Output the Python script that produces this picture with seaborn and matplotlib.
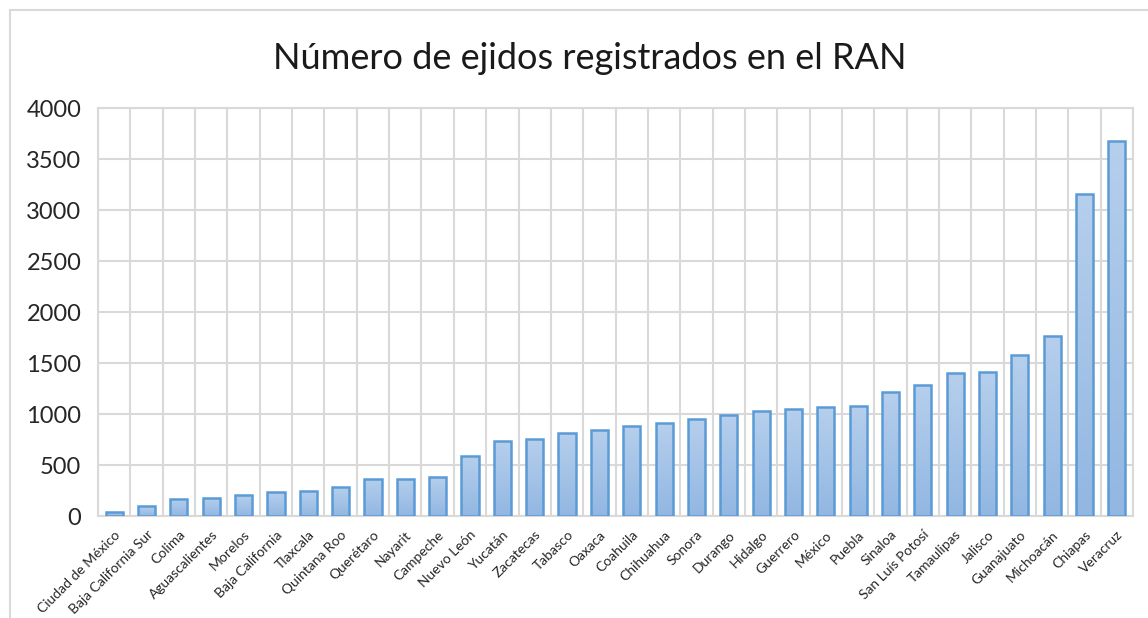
import numpy as np
import pandas as pd
import seaborn as sns
import matplotlib.pyplot as plt
from matplotlib.patches import Rectangle
from matplotlib.colors import LinearSegmentedColormap

estados = ["Ciudad de México", "Baja California Sur", "Colima", "Aguascalientes",
           "Morelos", "Baja California", "Tlaxcala", "Quintana Roo", "Querétaro",
           "Nayarit", "Campeche", "Nuevo León", "Yucatán", "Zacatecas", "Tabasco",
           "Oaxaca", "Coahuila", "Chihuahua", "Sonora", "Durango", "Hidalgo",
           "Guerrero", "México", "Puebla", "Sinaloa", "San Luís Potosí",
           "Tamaulipas", "Jalisco", "Guanajuato", "Michoacán", "Chiapas", "Veracruz"]
ejidos = [40, 98, 170, 180, 204, 235, 245, 281, 363, 367, 386, 590, 735,
          755, 814, 847, 886, 912, 951, 987, 1026, 1052, 1069, 1082, 1219,
          1289, 1400, 1410, 1581, 1767, 3160, 3680]
yticks = [0, 500, 1000, 1500, 2000, 2500, 3000, 3500, 4000]
titulo = "Número de ejidos registrados en el RAN"

sns.set_style("white")
plt.rcParams['font.family'] = ['Lato', 'DejaVu Sans']

df = pd.DataFrame({"estado": estados, "ejidos": ejidos})

fig = plt.figure(figsize=(11.48, 6.18), dpi=100)
ax = fig.add_axes([0.0854, 0.165, 0.9016, 0.66])

# outer chart frame
fig.patches.append(Rectangle((10 / 1148, -0.05), 1.2, 1 - 10 / 618 + 0.05,
                             transform=fig.transFigure, fill=False,
                             edgecolor="#d9d9d9", linewidth=1.5))

sns.barplot(data=df, x="estado", y="ejidos", color="#a3c2e8", saturation=1,
            edgecolor="#5b9bd5", linewidth=1.8, width=0.53, ax=ax, zorder=3)

# vertical gradient fill like the original (light at top, darker at bottom)
grad_cmap = LinearSegmentedColormap.from_list("g", ["#92b7e2", "#b6cfec"])
grad = np.linspace(0, 1, 256).reshape(-1, 1)
for p in ax.patches:
    x0, y0 = p.get_x(), p.get_y()
    w, h = p.get_width(), p.get_height()
    im = ax.imshow(grad, extent=[x0, x0 + w, y0, y0 + h], origin="lower",
                   aspect="auto", cmap=grad_cmap, zorder=3.5)
    im.set_clip_path(p)
    p.set_zorder(4)
    p.set_facecolor("none")

n = len(estados)
ax.set_xlim(-0.5, n - 0.5)
ax.set_ylim(0, 4000)
ax.set_yticks(yticks)
ax.set_yticklabels([str(t) for t in yticks], fontsize=17)
ax.set_xticks(np.arange(n))
ax.set_xticklabels(estados, rotation=45, ha="right", rotation_mode="anchor",
                   fontsize=10)
ax.set_xticks(np.arange(n + 1) - 0.5, minor=True)
ax.tick_params(axis="both", which="both", length=0)
ax.tick_params(axis="y", pad=12)
ax.tick_params(axis="x", pad=9)

ax.grid(axis="y", which="major", color="#d9d9d9", linewidth=1.5, zorder=0)
ax.grid(axis="x", which="minor", color="#d9d9d9", linewidth=1.5, zorder=0)
for s in ax.spines.values():
    s.set_color("#d9d9d9")
    s.set_linewidth(1.5)
ax.set_xlabel("")
ax.set_ylabel("")

fig.text(0.514, 0.905, titulo, ha="center", va="center", fontsize=26,
         color="#1a1a1a")

fig.savefig("out.png", dpi=100)
